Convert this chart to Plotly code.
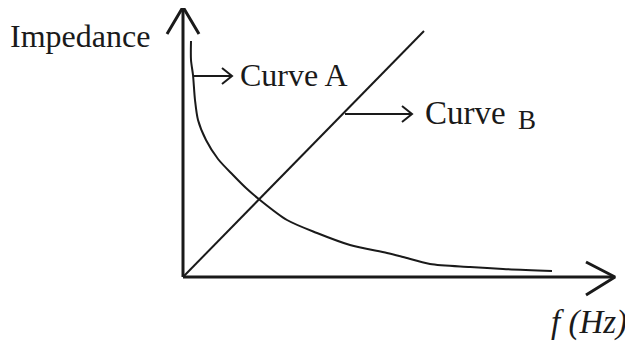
import plotly.graph_objects as go

# Schematic data (1 unit = 1 px; origin at the axes corner)
curve_a_f = [8, 8, 10, 12, 15, 23, 35, 50, 63, 77, 104, 134, 167, 204, 220, 247, 287, 320, 369]
curve_a_z = [236, 217, 202, 177, 157, 137, 118, 102, 89, 77, 57, 44, 32, 24, 20, 13, 10, 8, 6]
curve_b_f = [0, 241]
curve_b_z = [0, 246]

axis_x_end = 431
axis_y_end = 269

labels = {"y": "Impedance", "x": "<i>f (Hz)</i>", "a": "Curve A", "b": "Curve", "b2": "B"}

fig = go.Figure()
black = "#1a1a1a"

def line(xs, ys, w=2, shape="linear"):
    fig.add_trace(go.Scatter(x=xs, y=ys, mode="lines",
                             line=dict(color=black, width=w, shape=shape, smoothing=0.8),
                             hoverinfo="skip", showlegend=False))

# axes
line([0, axis_x_end], [0, 0], 3)
line([0, 0], [0, axis_y_end], 3)
# axis arrowheads (open chevrons)
line([axis_x_end - 28, axis_x_end + 1, axis_x_end - 28], [15, 0, -18], 3)
line([-16, 0, 16], [axis_y_end - 26, axis_y_end + 1, axis_y_end - 26], 3)

# curves
line(curve_a_f, curve_a_z, 2, "spline")
line(curve_b_f, curve_b_z, 2)

# label pointer arrows
def pointer(x0, x1, y):
    line([x0, x1], [y, y], 2)
    line([x1 - 10, x1, x1 - 10], [y + 8, y, y - 8], 2)

pointer(11, 49, 201)
pointer(162, 229, 163)

font = dict(family="Liberation Serif, Times New Roman, serif", size=32, color=black)
def text(s, x, y, size=32, anchor="left"):
    fig.add_annotation(x=x, y=y, text=s, showarrow=False, xanchor=anchor, yanchor="middle",
                       font=dict(font, size=size))

text(labels["y"], -103, 241, 32, "center")
text(labels["a"], 55, 202, 32)
text(labels["b"], 240, 164, 33)
text(labels["b2"], 333, 157, 27)
text(labels["x"], 366, -45, 33)

# page body has an 8px margin: size the figure so the page is exactly 633x349
fig.update_layout(
    width=625, height=341,
    margin=dict(l=0, r=0, t=0, b=0),
    paper_bgcolor="white", plot_bgcolor="white",
    xaxis=dict(range=[-175, 450], visible=False, fixedrange=True),
    yaxis=dict(range=[-72, 269], visible=False, fixedrange=True),
    showlegend=False,
)
fig.write_html("out.html")
